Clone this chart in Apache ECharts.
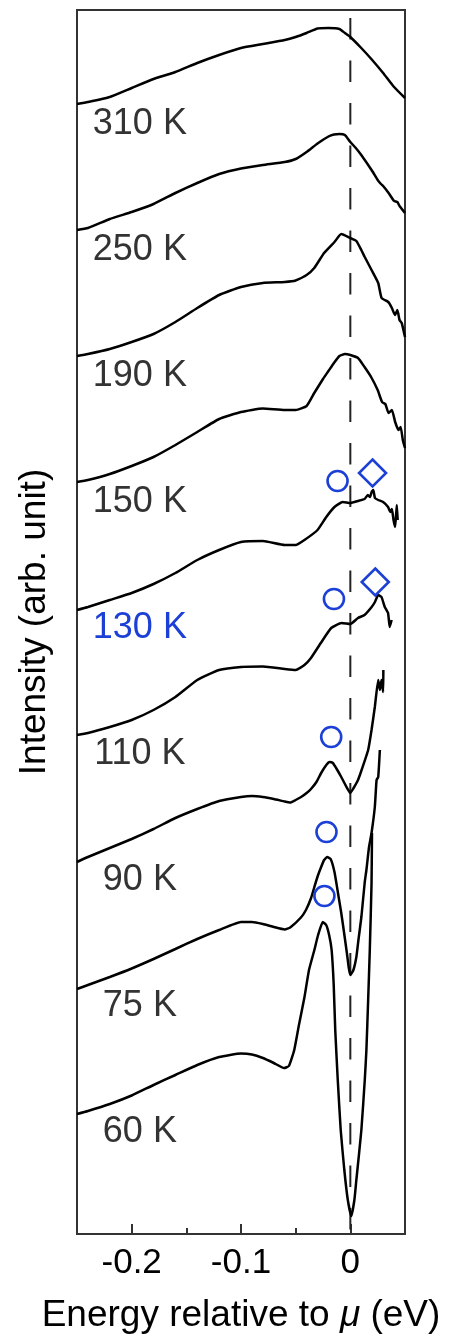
<!DOCTYPE html>
<html>
<head>
<meta charset="utf-8">
<script src="https://cdn.jsdelivr.net/npm/echarts@6/dist/echarts.min.js"></script>
<style>
  html, body { margin: 0; padding: 0; background: #fff; }
  #chart { width: 452px; height: 1341px; }
</style>
</head>
<body>
<div id="chart"></div>
<script>
// Energy distribution curves, stacked by temperature (energy in eV relative to mu)
const temperatures = ['60 K', '75 K', '90 K', '110 K', '130 K', '150 K', '190 K', '250 K', '310 K'];
const highlightTemp = '130 K';
const offsetStep = 1.26;      // vertical spacing between curves (arb. unit)
const labelLevel = 1.02;      // temperature label height above each curve's offset
const labelEnergy = -0.1925;  // temperature label centre (eV)

const energy60 = [-0.25, -0.24, -0.22, -0.20, -0.18, -0.16, -0.14, -0.12, -0.10, -0.09, -0.08, -0.07, -0.0606, -0.0562, -0.0513, -0.047, -0.0421, -0.0378, -0.0329, -0.0295, -0.0252, -0.0221, -0.0194, -0.0171, -0.0152, -0.0138, -0.0115, -0.0088, -0.0055, -0.0023, 0.0009, 0.0037, 0.0055, 0.0101, 0.0132, 0.0147, 0.0163, 0.0178, 0.0194, 0.0198];
const intensity60 = [1.20, 1.23, 1.30, 1.385, 1.49, 1.59, 1.69, 1.77, 1.805, 1.795, 1.76, 1.71, 1.66, 1.68, 1.84, 2.09, 2.36, 2.64, 2.84, 2.99, 3.12, 3.09, 2.99, 2.84, 2.49, 2.04, 1.54, 1.04, 0.64, 0.34, 0.18, 0.34, 0.54, 1.04, 1.54, 1.84, 2.34, 2.84, 3.51, 4.01];

const energy75 = [-0.25, -0.24, -0.22, -0.20, -0.18, -0.16, -0.14, -0.12, -0.10, -0.09, -0.08, -0.07, -0.06, -0.055, -0.0452, -0.0406, -0.0359, -0.0329, -0.0298, -0.0267, -0.024, -0.0212, -0.018, -0.0145, -0.0113, -0.0083, -0.0053, -0.0028, -0.0014, 0, 0.0028, 0.0055, 0.0074, 0.0101, 0.0132, 0.0147, 0.0171, 0.0194, 0.0224, 0.024, 0.0255, 0.027];
const intensity75 = [1.19, 1.23, 1.31, 1.395, 1.49, 1.59, 1.69, 1.78, 1.86, 1.86, 1.84, 1.81, 1.785, 1.805, 1.905, 1.98, 2.10, 2.21, 2.32, 2.41, 2.48, 2.51, 2.49, 2.36, 2.15, 1.95, 1.72, 1.52, 1.40, 1.33, 1.38, 1.51, 1.68, 1.91, 2.26, 2.38, 2.61, 2.75, 3.01, 3.28, 3.31, 3.58];

const energy90 = [-0.25, -0.24, -0.22, -0.20, -0.18, -0.16, -0.14, -0.12, -0.10, -0.09, -0.08, -0.07, -0.06, -0.055, -0.05, -0.045, -0.04, -0.036, -0.031, -0.0267, -0.022, -0.019, -0.016, -0.013, -0.0083, -0.004, 0, 0.003, 0.007, 0.01, 0.0163, 0.0194, 0.0224, 0.0255, 0.027, 0.0285, 0.03, 0.0302];
const intensity90 = [1.20, 1.25, 1.34, 1.43, 1.53, 1.64, 1.73, 1.81, 1.85, 1.86, 1.85, 1.83, 1.805, 1.795, 1.82, 1.85, 1.89, 1.93, 2.00, 2.09, 2.17, 2.20, 2.19, 2.14, 2.05, 1.96, 1.89, 1.94, 2.02, 2.11, 2.32, 2.52, 2.75, 3.02, 2.92, 3.02, 2.90, 3.12];

const energy110 = [-0.25, -0.24, -0.22, -0.20, -0.18, -0.16, -0.14, -0.12, -0.10, -0.08, -0.06, -0.05, -0.042, -0.036, -0.027, -0.0175, -0.008, 0, 0.007, 0.013, 0.0195, 0.0225, 0.0255, 0.0285, 0.0315, 0.0345, 0.036, 0.0378];
const intensity110 = [1.21, 1.23, 1.29, 1.36, 1.46, 1.59, 1.76, 1.86, 1.89, 1.895, 1.87, 1.86, 1.91, 1.98, 2.13, 2.28, 2.33, 2.32, 2.38, 2.41, 2.49, 2.54, 2.61, 2.59, 2.49, 2.43, 2.29, 2.36];

const energy130 = [-0.25, -0.24, -0.22, -0.20, -0.18, -0.16, -0.14, -0.12, -0.10, -0.08, -0.06, -0.05, -0.042, -0.03, -0.022, -0.0145, -0.007, 0, 0.007, 0.013, 0.016, 0.018, 0.0195, 0.021, 0.0225, 0.0255, 0.03, 0.0345, 0.0365, 0.038, 0.0395, 0.041, 0.0425, 0.0433];
const intensity130 = [1.20, 1.23, 1.30, 1.37, 1.46, 1.57, 1.70, 1.80, 1.88, 1.89, 1.85, 1.85, 1.90, 2.00, 2.13, 2.23, 2.28, 2.27, 2.29, 2.31, 2.35, 2.33, 2.38, 2.40, 2.32, 2.30, 2.28, 2.23, 2.18, 2.21, 2.10, 2.03, 2.25, 2.10];

const energy150 = [-0.25, -0.24, -0.22, -0.20, -0.18, -0.16, -0.14, -0.12, -0.10, -0.08, -0.06, -0.05, -0.04, -0.033, -0.025, -0.02, -0.015, -0.01, -0.005, 0, 0.007, 0.013, 0.019, 0.025, 0.029, 0.032, 0.035, 0.038, 0.041, 0.044, 0.046, 0.048, 0.05];
const intensity150 = [1.22, 1.24, 1.30, 1.38, 1.47, 1.59, 1.72, 1.85, 1.92, 1.955, 1.94, 1.94, 1.98, 2.11, 2.25, 2.33, 2.41, 2.48, 2.50, 2.49, 2.46, 2.37, 2.27, 2.14, 2.02, 2.00, 1.91, 1.94, 1.82, 1.74, 1.77, 1.64, 1.56];

const energy190 = [-0.25, -0.24, -0.22, -0.20, -0.18, -0.16, -0.14, -0.12, -0.10, -0.08, -0.06, -0.05, -0.04, -0.033, -0.024, -0.0145, -0.0083, 0, 0.0055, 0.01, 0.0132, 0.0194, 0.0255, 0.0286, 0.0347, 0.038, 0.0408, 0.043, 0.045, 0.047, 0.05];
const intensity190 = [1.22, 1.24, 1.29, 1.36, 1.44, 1.56, 1.70, 1.83, 1.91, 1.95, 1.96, 1.975, 2.03, 2.10, 2.25, 2.36, 2.44, 2.40, 2.37, 2.28, 2.21, 2.08, 1.95, 1.80, 1.76, 1.70, 1.63, 1.68, 1.58, 1.55, 1.41];

const energy250 = [-0.25, -0.24, -0.22, -0.20, -0.18, -0.16, -0.14, -0.12, -0.10, -0.08, -0.06, -0.05, -0.04, -0.03, -0.02, -0.015, -0.01, -0.005, 0, 0.005, 0.01, 0.02, 0.025, 0.028, 0.03, 0.035, 0.04, 0.043, 0.045, 0.05];
const intensity250 = [1.22, 1.24, 1.33, 1.40, 1.48, 1.59, 1.69, 1.78, 1.835, 1.87, 1.90, 1.93, 2.00, 2.085, 2.155, 2.175, 2.18, 2.17, 2.10, 2.04, 1.97, 1.81, 1.72, 1.68, 1.66, 1.59, 1.51, 1.50, 1.46, 1.39];

const energy310 = [-0.25, -0.24, -0.22, -0.20, -0.18, -0.16, -0.14, -0.12, -0.10, -0.08, -0.06, -0.05, -0.04, -0.03, -0.02, -0.01, -0.005, 0, 0.01, 0.02, 0.03, 0.04, 0.05];
const intensity310 = [1.22, 1.24, 1.29, 1.38, 1.47, 1.54, 1.63, 1.71, 1.78, 1.82, 1.86, 1.89, 1.93, 1.975, 1.98, 1.97, 1.93, 1.89, 1.78, 1.66, 1.53, 1.39, 1.28];

// feature markers (energy, stacked intensity)
const circleMarks = [[-0.0117, 7.53], [-0.0150, 6.35], [-0.0175, 4.97], [-0.0218, 4.02], [-0.0237, 3.38]];
const diamondMarks = [[0.0203, 7.61], [0.0228, 6.52]];

const curves = [
  [energy60, intensity60], [energy75, intensity75], [energy90, intensity90],
  [energy110, intensity110], [energy130, intensity130], [energy150, intensity150],
  [energy190, intensity190], [energy250, intensity250], [energy310, intensity310]
];

const FONT = '"Liberation Sans", Arial, Helvetica, sans-serif';
const BLUE = '#1c3fd6';
const INK = '#000';
const LABEL_INK = '#333';
const FRAME = '#333';

const yTop = 12.24;
const series = [];

curves.forEach(([es, is], k) => {
  const n = Math.min(es.length, is.length);
  const data = [];
  for (let i = 0; i < n; i++) data.push([es[i], is[i] + k * offsetStep]);
  series.push({
    type: 'line',
    name: temperatures[k],
    data: data,
    showSymbol: false,
    smooth: 0.15,
    lineStyle: { color: INK, width: 2.5 },
    silent: true,
    z: 3
  });
});

// chemical potential reference line
series.push({
  type: 'line',
  data: [[0, 12.16], [0, 0]],
  showSymbol: false,
  lineStyle: { color: '#222', width: 2, type: [21.5, 21] },
  silent: true,
  z: 2
});

// temperature labels
series.push({
  type: 'scatter',
  symbolSize: 0,
  silent: true,
  itemStyle: { opacity: 1 },
  data: temperatures.map((t, k) => ({
    name: t,
    value: [labelEnergy, k * offsetStep + labelLevel],
    label: { color: t === highlightTemp ? BLUE : LABEL_INK }
  })),
  label: {
    show: true,
    position: 'inside',
    formatter: p => p.name,
    fontSize: 36,
    fontFamily: FONT,
    align: 'center',
    verticalAlign: 'middle'
  },
  z: 4
});

series.push({
  type: 'scatter',
  symbol: 'circle',
  symbolSize: 20,
  silent: true,
  data: circleMarks,
  itemStyle: { color: 'rgba(0,0,0,0)', borderColor: BLUE, borderWidth: 2.6, opacity: 1 },
  z: 5
});

series.push({
  type: 'scatter',
  symbol: 'diamond',
  symbolSize: [27, 27],
  silent: true,
  data: diamondMarks,
  itemStyle: { color: 'rgba(0,0,0,0)', borderColor: BLUE, borderWidth: 2.6, opacity: 1 },
  z: 5
});

const chart = echarts.init(document.getElementById('chart'), null, { renderer: 'canvas' });
chart.setOption({
  animation: false,
  backgroundColor: '#fff',
  grid: {
    left: 77, right: 47, top: 10, bottom: 107,
    show: true, borderColor: FRAME, borderWidth: 2,
    containLabel: false, outerBoundsMode: 'none'
  },
  xAxis: [
    {
      type: 'value', min: -0.25, max: 0.05, position: 'bottom',
      axisLine: { show: true, lineStyle: { color: FRAME, width: 2 } },
      axisTick: { show: true, inside: true, length: 10, customValues: [-0.2, -0.1, 0], lineStyle: { color: FRAME, width: 2 } },
      axisLabel: {
        show: true, customValues: [-0.2, -0.1, 0], margin: 12,
        fontSize: 35, color: INK, fontFamily: FONT,
        formatter: v => (Math.abs(v) < 1e-9 ? '0' : String(+v.toFixed(2)))
      },
      splitLine: { show: false },
      name: '{a|Energy relative to }{m|μ}{a| (eV)}',
      nameLocation: 'middle',
      nameGap: 63,
      nameTextStyle: {
        rich: {
          a: { fontSize: 37, color: INK, fontFamily: FONT },
          m: { fontSize: 37, color: INK, fontFamily: FONT, fontStyle: 'italic' }
        }
      }
    },
    {
      type: 'value', min: -0.25, max: 0.05, position: 'bottom', offset: 0,
      axisLine: { show: false },
      axisTick: { show: true, inside: true, length: 6, customValues: [-0.15, -0.05], lineStyle: { color: FRAME, width: 2 } },
      axisLabel: { show: false },
      splitLine: { show: false }
    }
  ],
  yAxis: {
    type: 'value', min: 0, max: yTop,
    axisLine: { show: false },
    axisTick: { show: false },
    axisLabel: { show: false },
    splitLine: { show: false },
    name: 'Intensity (arb. unit)',
    nameLocation: 'middle',
    nameGap: 24,
    nameTextStyle: { fontSize: 37, color: INK, fontFamily: FONT }
  },
  series: series
});
</script>
</body>
</html>
